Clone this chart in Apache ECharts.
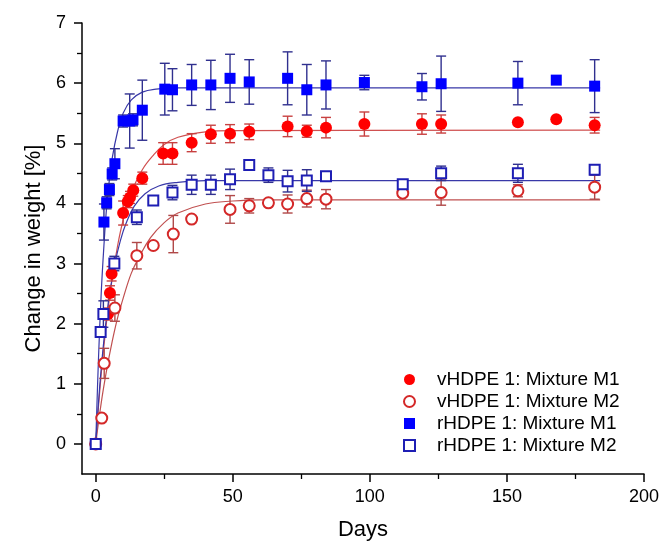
<!DOCTYPE html>
<html><head><meta charset="utf-8">
<script src="https://cdn.jsdelivr.net/npm/echarts@6/dist/echarts.min.js"></script>
<style>html,body{margin:0;padding:0;background:#fff}#c{width:661px;height:545px}</style>
</head><body><div id="c"></div>
<script>
// ---- data ----
const vM1Name = 'vHDPE 1: Mixture M1';
const vM1Days = [0, 4.5, 5.2, 5.8, 10, 11.7, 12.5, 13.7, 17, 24.6, 28, 35, 42, 49, 56, 70, 77, 84, 98, 119, 126, 154, 168, 182];
const vM1Vals = [0, 2.16, 2.51, 2.83, 3.84, 4.03, 4.10, 4.22, 4.42, 4.83, 4.83, 5.01, 5.15, 5.16, 5.19, 5.28, 5.20, 5.26, 5.32, 5.32, 5.32, 5.35, 5.40, 5.30];
const vM1Errs = [0, 0.1, 0.12, 0.12, 0.2, 0.1, 0.1, 0.1, 0.1, 0.18, 0.18, 0.15, 0.15, 0.15, 0.13, 0.17, 0.1, 0.17, 0.2, 0.17, 0.15, 0, 0, 0.13];

const vM2Name = 'vHDPE 1: Mixture M2';
const vM2Days = [0, 2.2, 3.1, 7, 15, 21, 28.3, 35, 49, 56, 63, 70, 77, 84, 112, 126, 154, 182];
const vM2Vals = [0, 0.43, 1.34, 2.26, 3.13, 3.30, 3.49, 3.74, 3.90, 3.96, 4.01, 3.99, 4.08, 4.07, 4.17, 4.18, 4.21, 4.27];
const vM2Errs = [0, 0.05, 0.25, 0.22, 0.22, 0.05, 0.31, 0.05, 0.23, 0.12, 0.05, 0.15, 0.14, 0.16, 0.05, 0.21, 0.1, 0.2];

const rM1Name = 'rHDPE 1: Mixture M1';
const rM1Days = [0, 3, 4, 5, 6, 7, 10, 12.4, 13.6, 17, 25.2, 28, 35, 42, 49, 56, 70, 77, 84, 98, 119, 126, 154, 168, 182];
const rM1Vals = [0, 3.69, 4.01, 4.23, 4.49, 4.66, 5.37, 5.37, 5.39, 5.55, 5.90, 5.89, 5.97, 5.97, 6.08, 6.02, 6.08, 5.89, 5.97, 6.01, 5.94, 5.99, 6.00, 6.05, 5.95];
const rM1Errs = [0, 0.3, 0.1, 0.1, 0.1, 0.25, 0.1, 0.45, 0.1, 0.5, 0.43, 0.35, 0.34, 0.41, 0.4, 0.37, 0.44, 0.42, 0.4, 0.12, 0.22, 0.46, 0.36, 0, 0.44];

const rM2Name = 'rHDPE 1: Mixture M2';
const rM2Days = [0, 1.8, 2.8, 6.8, 15, 21, 28, 35, 42, 49, 56, 63, 70, 77, 84, 112, 126, 154, 182];
const rM2Vals = [0, 1.86, 2.16, 3.00, 3.77, 4.05, 4.18, 4.31, 4.31, 4.40, 4.64, 4.47, 4.37, 4.38, 4.45, 4.32, 4.50, 4.50, 4.56];
const rM2Errs = [0, 0.05, 0.22, 0.12, 0.12, 0.05, 0.12, 0.16, 0.16, 0.17, 0, 0.12, 0.18, 0.18, 0.06, 0.04, 0.12, 0.15, 0.08];

// fitted curves
const vM1FitDays = [0, 2, 4, 6, 8, 10, 13, 17, 21, 25, 30, 40, 50, 184];
const vM1FitVals = [0, 1.16, 2.05, 2.75, 3.30, 3.72, 4.18, 4.56, 4.80, 4.98, 5.10, 5.19, 5.21, 5.22];
const vM2FitDays = [0, 2, 4, 6, 8, 10, 13, 16, 20, 25, 30, 40, 50, 60, 184];
const vM2FitVals = [0, 0.68, 1.23, 1.70, 2.10, 2.42, 2.84, 3.12, 3.43, 3.68, 3.84, 3.99, 4.04, 4.06, 4.06];
const rM1FitDays = [0, 1, 2, 3, 4, 5, 6, 8, 10, 13, 17, 22, 30, 184];
const rM1FitVals = [0, 1.40, 2.50, 3.30, 3.95, 4.40, 4.75, 5.20, 5.50, 5.72, 5.85, 5.90, 5.92, 5.92];
const rM2FitDays = [0, 1, 2, 3, 4, 5, 7, 9, 11, 14, 18, 23, 30, 40, 184];
const rM2FitVals = [0, 0.68, 1.25, 1.73, 2.13, 2.48, 3.00, 3.38, 3.66, 3.95, 4.16, 4.29, 4.35, 4.38, 4.38];

const xMajor = [0, 50, 100, 150, 200];
const xMinor = [25, 75, 125, 175];
const yMajor = [0, 1, 2, 3, 4, 5, 6, 7];
const yMinor = [0.5, 1.5, 2.5, 3.5, 4.5, 5.5, 6.5];

// ---- build ----
const FONT = '"Liberation Sans", Arial, sans-serif';
function pts(d, v) { return d.map((x, i) => [x, v[i]]); }
function errPts(d, v, e) { return d.map((x, i) => [x, v[i], e[i]]).filter(p => p[2] > 0); }

function errSeries(d, v, e, color) {
  return {
    type: 'custom', silent: true, clip: true, z: 3,
    data: errPts(d, v, e),
    encode: { x: 0, y: 1 },
    renderItem: function (params, api) {
      const x = api.value(0), y = api.value(1), er = api.value(2);
      const lo = api.coord([x, y - er]);
      const hi = api.coord([x, y + er]);
      const cw = 5;
      const st = { stroke: color, lineWidth: 1.4 };
      return { type: 'group', children: [
        { type: 'line', shape: { x1: lo[0], y1: lo[1], x2: hi[0], y2: hi[1] }, style: st },
        { type: 'line', shape: { x1: lo[0] - cw, y1: lo[1], x2: lo[0] + cw, y2: lo[1] }, style: st },
        { type: 'line', shape: { x1: hi[0] - cw, y1: hi[1], x2: hi[0] + cw, y2: hi[1] }, style: st }
      ]};
    }
  };
}
function fitSeries(d, v, color) {
  return { type: 'line', data: pts(d, v), smooth: 0.4, showSymbol: false, silent: true, z: 2,
    lineStyle: { color: color, width: 1.2 } };
}

const chart = echarts.init(document.getElementById('c'), null, { renderer: 'canvas' });
const lineMain = { show: true, onZero: false, lineStyle: { color: '#000', width: 1.5 } };
const lineNone = { show: false, onZero: false };
chart.setOption({
  animation: false,
  backgroundColor: '#fff',
  grid: { left: 82, right: 17, top: 23, bottom: 71, containLabel: false, outerBoundsMode: 'none' },
  xAxis: [
    { type: 'value', min: -5, max: 200, position: 'bottom', splitLine: { show: false },
      axisLine: lineMain,
      axisTick: { show: true, customValues: xMajor, length: 8, lineStyle: { color: '#000', width: 1.5 } },
      axisLabel: { customValues: xMajor, fontSize: 18, color: '#000', fontFamily: FONT, margin: 14 },
      name: 'Days', nameLocation: 'middle', nameGap: 45,
      nameTextStyle: { fontSize: 22, color: '#000', fontFamily: FONT } },
    { type: 'value', min: -5, max: 200, position: 'bottom', splitLine: { show: false },
      axisLine: lineNone,
      axisTick: { show: true, customValues: xMinor, length: 5, lineStyle: { color: '#000', width: 1.3 } },
      axisLabel: { show: false } }
  ],
  yAxis: [
    { type: 'value', min: -0.5, max: 7, position: 'left', splitLine: { show: false },
      axisLine: lineMain,
      axisTick: { show: true, customValues: yMajor, length: 8, lineStyle: { color: '#000', width: 1.5 } },
      axisLabel: { customValues: yMajor, fontSize: 18, color: '#000', fontFamily: FONT, margin: 16 },
      name: 'Change in weight [%]', nameLocation: 'middle', nameGap: 37, nameRotate: 90,
      nameTextStyle: { fontSize: 22, color: '#000', fontFamily: FONT } },
    { type: 'value', min: -0.5, max: 7, position: 'left', splitLine: { show: false },
      axisLine: lineNone,
      axisTick: { show: true, customValues: yMinor, length: 5, lineStyle: { color: '#000', width: 1.3 } },
      axisLabel: { show: false } }
  ],
  legend: {
    orient: 'vertical', left: 398, top: 365, itemGap: 3, itemWidth: 11, itemHeight: 11,
    textStyle: { fontSize: 19, color: '#000', fontFamily: FONT, padding: [0, 0, 0, 17] },
    data: [vM1Name, vM2Name, rM1Name, rM2Name]
  },
  series: [
    fitSeries(vM1FitDays, vM1FitVals, '#d05050'),
    fitSeries(vM2FitDays, vM2FitVals, '#c05050'),
    fitSeries(rM1FitDays, rM1FitVals, '#3838a8'),
    fitSeries(rM2FitDays, rM2FitVals, '#3838a8'),
    errSeries(vM1Days, vM1Vals, vM1Errs, '#c84040'),
    errSeries(vM2Days, vM2Vals, vM2Errs, '#b04848'),
    errSeries(rM1Days, rM1Vals, rM1Errs, '#30308f'),
    errSeries(rM2Days, rM2Vals, rM2Errs, '#30308f'),
    { name: vM1Name, type: 'scatter', z: 4, data: pts(vM1Days, vM1Vals), symbol: 'circle', symbolSize: 12,
      itemStyle: { color: '#ff0000', opacity: 1 } },
    { name: vM2Name, type: 'scatter', z: 5, data: pts(vM2Days, vM2Vals), symbol: 'circle', symbolSize: 11,
      itemStyle: { color: '#ffffff', borderColor: '#d42828', borderWidth: 2, opacity: 1 } },
    { name: rM1Name, type: 'scatter', z: 6, data: pts(rM1Days, rM1Vals), symbol: 'rect', symbolSize: 11,
      itemStyle: { color: '#0000ff', opacity: 1 } },
    { name: rM2Name, type: 'scatter', z: 7, data: pts(rM2Days, rM2Vals), symbol: 'rect', symbolSize: 10,
      itemStyle: { color: '#ffffff', borderColor: '#1e1eb4', borderWidth: 2, opacity: 1 } }
  ]
});
</script></body></html>
